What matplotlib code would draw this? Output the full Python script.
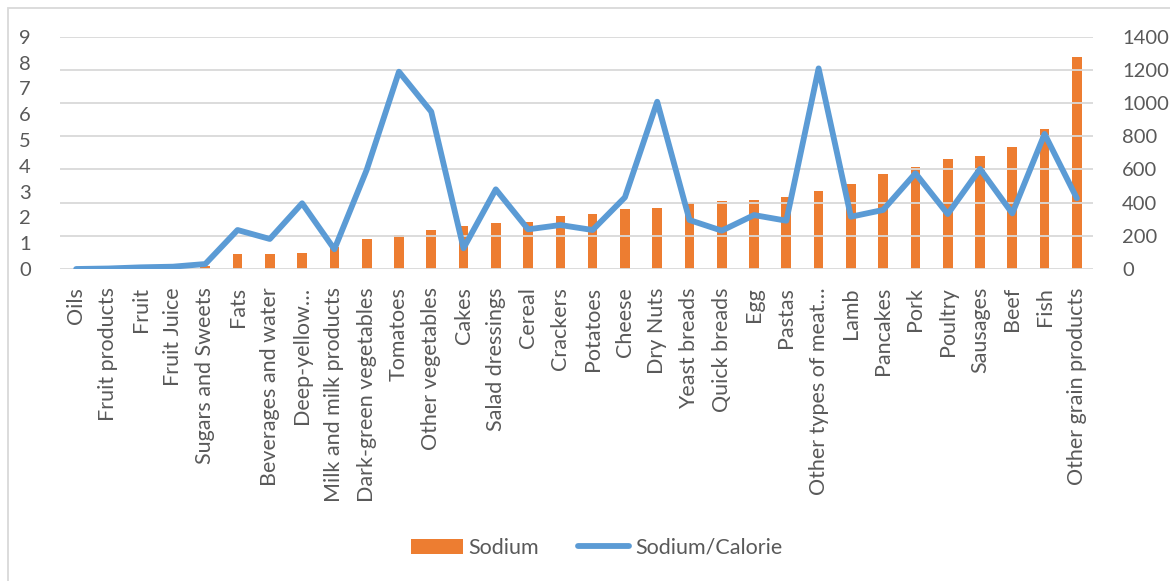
import matplotlib
matplotlib.use('Agg')
import matplotlib.pyplot as plt
from matplotlib.patches import Patch, Rectangle
from matplotlib.lines import Line2D
import numpy as np

# Food groups, ordered by sodium content
categories = [
    'Oils', 'Fruit products', 'Fruit', 'Fruit Juice', 'Sugars and Sweets',
    'Fats', 'Beverages and water', 'Deep-yellow…', 'Milk and milk products',
    'Dark-green vegetables', 'Tomatoes', 'Other vegetables', 'Cakes',
    'Salad dressings', 'Cereal', 'Crackers', 'Potatoes', 'Cheese', 'Dry Nuts',
    'Yeast breads', 'Quick breads', 'Egg', 'Pastas', 'Other types of meat…',
    'Lamb', 'Pancakes', 'Pork', 'Poultry', 'Sausages', 'Beef', 'Fish',
    'Other grain products',
]

sodium = [0, 0, 0, 0, 0.12, 0.57, 0.57, 0.62, 0.85, 1.16, 1.32, 1.51, 1.67,
          1.80, 1.82, 2.04, 2.14, 2.31, 2.38, 2.56, 2.64, 2.69, 2.80, 3.01,
          3.29, 3.68, 3.95, 4.28, 4.38, 4.72, 5.43, 8.21]

sodium_per_calorie = [0, 3, 10, 14, 30, 235, 181, 396, 119, 597, 1189, 948,
                      125, 480, 239, 265, 235, 432, 1008, 295, 231, 325, 291,
                      1209, 315, 356, 577, 331, 603, 335, 814, 426]

left_ticks = list(range(0, 10))
right_ticks = list(range(0, 1401, 200))

bar_color = '#ED7D31'
line_color = '#5B9BD5'
text_color = '#595959'
grid_color = '#D9D9D9'

plt.rcParams['font.family'] = ['Lato', 'DejaVu Sans']
fs = 15.5

W, H = 1170, 581
fig = plt.figure(figsize=(W / 100, H / 100), dpi=100)
fig.patch.set_facecolor('white')

# chart border (top and left edges fall inside the image)
fig.patches.append(Rectangle((8 / W, -0.1), 1.2, 1.1 - 8 / H,
                             transform=fig.transFigure, fill=False,
                             edgecolor=grid_color, linewidth=1.3))

ax = fig.add_axes([60 / W, (H - 269) / H, (1093 - 60) / W, (269 - 36.7) / H])
ax2 = ax.twinx()

x = np.arange(len(categories))
ax.bar(x, sodium, width=0.3, color=bar_color, zorder=3)
ax.set_ylim(0, 9)
ax.set_yticks(left_ticks)
ax.set_xlim(-0.5, len(categories) - 0.5)
ax.set_xticks(x)
ax.set_xticklabels(categories, rotation=90, va='top', ha='center')

ax2.plot(x, sodium_per_calorie, color=line_color, linewidth=4.2,
         solid_joinstyle='round', solid_capstyle='round', zorder=4)
ax2.set_ylim(0, 1400)
ax2.set_yticks(right_ticks)
ax2.grid(axis='y', color=grid_color, linewidth=1.3)
ax2.set_axisbelow(True)

# bars drawn above the right-axis gridlines
ax.set_zorder(ax2.get_zorder() - 1)
ax.patch.set_visible(False)
ax2.patch.set_visible(False)

for a in (ax, ax2):
    for s in a.spines.values():
        s.set_visible(False)
    a.tick_params(length=0, colors=text_color)
    a.tick_params(axis='y', labelsize=14.5, pad=21)
ax.tick_params(axis='x', labelsize=fs, pad=13)

handles = [Patch(facecolor=bar_color, edgecolor='none'),
           Line2D([0], [0], color=line_color, linewidth=4.2, solid_capstyle='round')]
fig.legend(handles, ['Sodium', 'Sodium/Calorie'], loc='center',
           bbox_to_anchor=(0.51, 33 / H), ncol=2, frameon=False,
           fontsize=fs, labelcolor=text_color, handlelength=2.4,
           handletextpad=0.25, columnspacing=1.8)

fig.savefig('out.png', dpi=100, facecolor='white')
